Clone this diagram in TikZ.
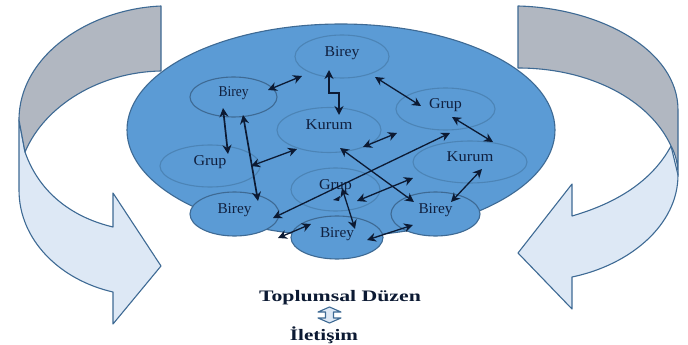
\documentclass[tikz,border=0pt]{standalone}
\usepackage{graphicx}
\usepackage{fontspec}
\setmainfont{Liberation Serif}
\usetikzlibrary{shapes.geometric,arrows.meta}
\definecolor{bluefill}{HTML}{5B9BD5}
\definecolor{edgeblue}{HTML}{3E6A94}
\definecolor{faintblue}{HTML}{4C84B6}
\definecolor{bandgrey}{HTML}{B1B7C1}
\definecolor{bandlight}{HTML}{DDE8F5}
\definecolor{inkblue}{HTML}{0C1A33}
\definecolor{textblue}{HTML}{10203F}
\newcommand{\lbl}[2]{\raisebox{0.5pt}[0pt][0pt]{\scalebox{#1}[1]{#2}}}
\tikzset{
  x=1pt,y=-1pt,
  band/.style={draw=edgeblue,line width=1.1pt,line join=round},
  ring/.style={ellipse,draw=faintblue,line width=1.1pt,inner sep=0pt,text=textblue,font=\fontsize{15}{17}\selectfont},
  disc/.style={ring,draw=edgeblue,fill=bluefill},
  link/.style={draw=inkblue,line width=1.3pt,{Stealth[length=9pt,width=9pt]}-{Stealth[length=9pt,width=9pt]}},
  caption/.style={text=inkblue,inner sep=0pt,font=\fontsize{16}{18}\bfseries\selectfont},
}
\begin{document}
\begin{tikzpicture}
\useasboundingbox (0,0) rectangle (688,345);
% left band
\draw[band,fill=bandlight] (19,120) -- (19,190) .. controls (19,240) and (60,280) .. (113,292) -- (113,324) -- (161,266) -- (113,193) -- (113,227) .. controls (75,218) and (40,195) .. (25,152) -- cycle;
\draw[band,fill=bandgrey] (161,6) .. controls (90,9) and (19,55) .. (19,120) -- (25,152) .. controls (45,105) and (100,72) .. (161,71) -- cycle;
% right band
\draw[band,fill=bandlight] (671,146) -- (678,175) .. controls (678,225) and (630,265) .. (572,277) -- (572,309) -- (518,253) -- (572,184) -- (572,216) .. controls (610,205) and (650,185) .. (671,146) -- cycle;
\draw[band,fill=bandgrey] (518,6) .. controls (600,8) and (678,50) .. (678,110) -- (678,175) .. controls (678,165) and (676,155) .. (671,146) .. controls (650,100) and (590,68) .. (518,68) -- cycle;
% main ellipse
\node[disc,minimum width=428pt,minimum height=212pt] (society) at (341,130) {};
% members
\node[ring,minimum width=94pt,minimum height=43pt] (bTop) at (342,56.5) {\lbl{1.05}{Birey}};
\node[ring,draw=edgeblue,minimum width=87pt,minimum height=40pt] (bLeft) at (233.5,97) {\lbl{0.9}{Birey}};
\node[ring,minimum width=104pt,minimum height=45pt] (kMid) at (329,130) {\lbl{1.1}{Kurum}};
\node[ring,minimum width=99pt,minimum height=42pt] (gRight) at (445.5,109) {\lbl{1.07}{Grup}};
\node[ring,minimum width=100pt,minimum height=42pt] (gLeft) at (210,166) {\lbl{1.07}{Grup}};
\node[ring,minimum width=114pt,minimum height=42pt] (kRight) at (470,162) {\lbl{1.1}{Kurum}};
\node[ring,minimum width=89pt,minimum height=43pt] (gMid) at (335.5,189.5) {\lbl{1.07}{Grup}};
\node[disc,minimum width=89pt,minimum height=44pt] (bLow) at (234.5,214) {\lbl{1.02}{Birey}};
\node[disc,minimum width=92pt,minimum height=43pt] (bBase) at (337,237.5) {\lbl{1.02}{Birey}};
\node[disc,minimum width=89pt,minimum height=44pt] (bLowR) at (435.5,214) {\lbl{1.02}{Birey}};
% connector ends
\coordinate (a1s) at (268,90);   \coordinate (a1e) at (302,76);
\coordinate (a2s) at (329,70);   \coordinate (a2a) at (329,93);
\coordinate (a2b) at (339,93);   \coordinate (a2e) at (339,115);
\coordinate (a3s) at (375,77);   \coordinate (a3e) at (421,106);
\coordinate (a4s) at (452,117);  \coordinate (a4e) at (493,142);
\coordinate (a5s) at (363,147);  \coordinate (a5e) at (397,133);
\coordinate (a6s) at (450,133);  \coordinate (a6e) at (273,218);
\coordinate (a7s) at (223,108);  \coordinate (a7e) at (228,154);
\coordinate (a8s) at (243,115);  \coordinate (a8e) at (258,201);
\coordinate (a9s) at (251,166);  \coordinate (a9e) at (297,149);
\coordinate (a10s) at (340,148); \coordinate (a10e) at (414,202);
\coordinate (a11s) at (482,169); \coordinate (a11e) at (451,202);
\coordinate (a12s) at (413,178); \coordinate (a12e) at (357,201);
\coordinate (a13s) at (342,188); \coordinate (a13e) at (355,229);
\coordinate (a14s) at (278,238); \coordinate (a14e) at (311,224);
\coordinate (a15s) at (367,240); \coordinate (a15e) at (413,225);
% connectors
\draw[link] (a1s) -- (a1e);
\draw[link,line width=1.7pt] (a2s) -- (a2a) -- (a2b) -- (a2e);
\draw[link] (a3s) -- (a3e);
\draw[link] (a4s) -- (a4e);
\draw[link] (a5s) -- (a5e);
\draw[link] (a6s) -- (a6e);
\draw[link,line width=1.7pt] (a7s) -- (a7e);
\draw[link,line width=1.7pt] (a8s) -- (a8e);
\draw[link] (a9s) -- (a9e);
\draw[link] (a10s) -- (a10e);
\draw[link] (a11s) -- (a11e);
\draw[link] (a12s) -- (a12e);
\draw[link] (a13s) -- (a13e);
\draw[link] (a14s) -- (a14e);
\draw[link] (a15s) -- (a15e);
\fill[inkblue] (333,200) -- (340,196) -- (339,201) -- cycle;
% caption
\node[caption] (cTop) at (340,298) {\scalebox{1.36}[1]{Toplumsal Düzen}};
\node[caption] (cBottom) at (324,335) {\scalebox{1.32}[1]{İletişim}};
\draw[draw=edgeblue,fill=bandlight,line width=1.1pt,line join=round] (329.5,307) -- (341,312) -- (333.5,312) -- (333.5,318) -- (341,318) -- (329.5,323) -- (318,318) -- (325.5,318) -- (325.5,312) -- (318,312) -- cycle;
\end{tikzpicture}
\end{document}
